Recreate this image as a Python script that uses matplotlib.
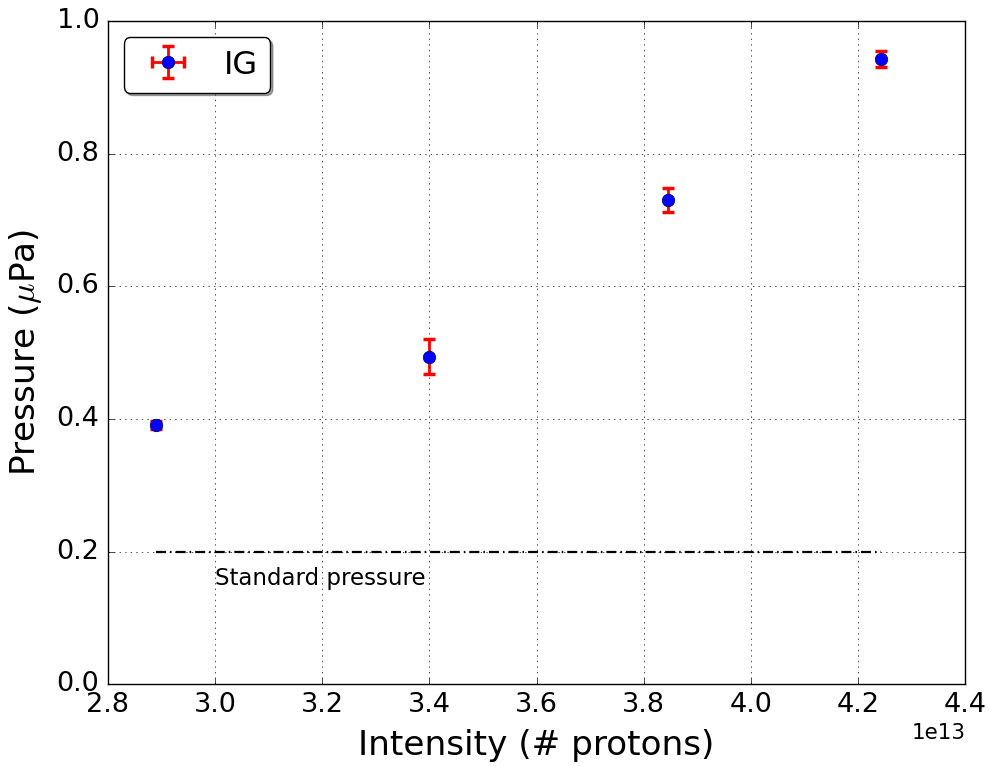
import numpy as np
import matplotlib
matplotlib.use('Agg')
import matplotlib.pyplot as plt

plt.style.use('classic')

# intensities and measured pressures (IG gauge)
intensity = [2.89e13, 3.40e13, 3.845e13, 4.243e13]
pressure = [0.391, 0.494, 0.731, 0.943]
pressure_err = [0.006, 0.026, 0.018, 0.012]
intensity_err = [0.0008e13, 0.0008e13, 0.0008e13, 0.0008e13]
standard_pressure = 0.2

fig = plt.figure(figsize=(9.89, 7.66), dpi=100, facecolor='white')
ax = fig.add_axes([0.109, 0.107, 0.867, 0.865])

ax.errorbar(intensity, pressure, yerr=pressure_err, xerr=intensity_err,
            fmt='o', color='blue', ecolor='red', elinewidth=2, capsize=4.5,
            capthick=2.5, markersize=9, markeredgecolor='#000060', label='IG')

# standard pressure reference line
ax.plot([intensity[0], intensity[-1]], [standard_pressure, standard_pressure],
        color='k', linewidth=1.6, dashes=[7.2, 2.9, 1.1, 2.9])
ax.text(3.0e13, 0.15, 'Standard pressure', fontsize=16.5)

ax.set_xlim(2.8e13, 4.4e13)
ax.set_ylim(0.0, 1.0)
ax.set_xticks(np.arange(2.8e13, 4.41e13, 0.2e13))
ax.set_yticks(np.arange(0.0, 1.01, 0.2))
ax.grid(True)
ax.tick_params(labelsize=19.5, pad=6)
ax.xaxis.get_offset_text().set_fontsize(15.5)

ax.set_xlabel('Intensity (# protons)', fontsize=24.7, labelpad=8)
ax.set_ylabel(r'Pressure ($\mu$Pa)', fontsize=24.7, labelpad=9)

leg = ax.legend(loc='upper left', numpoints=1, fancybox=True, shadow=True,
                fontsize=23, handlelength=2.0, handletextpad=0.75,
                borderpad=0.38)

fig.savefig('out.png', dpi=100, facecolor='white')
